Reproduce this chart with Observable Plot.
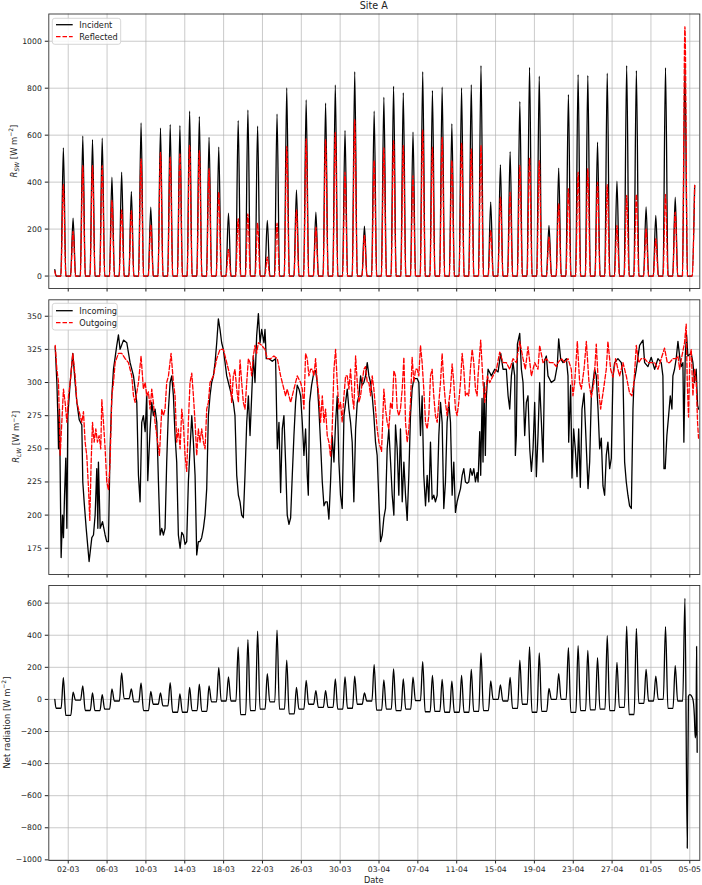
<!DOCTYPE html>
<html><head><meta charset="utf-8">
<script src="https://cdn.jsdelivr.net/npm/d3@7"></script>
<script src="https://cdn.jsdelivr.net/npm/@observablehq/plot@0.6"></script>
<style>
body{margin:0;background:#fff;}
#chart{position:relative;width:702px;height:885px;font-family:"DejaVu Sans",sans-serif;background:#fff;overflow:hidden;color:#222}
.panel{position:absolute;left:0}
#title{position:absolute;top:0;left:373.8px;transform:translateX(-50%);font-size:9.6px;line-height:12px;white-space:nowrap}
#xlabel{position:absolute;top:874px;left:373.8px;transform:translateX(-50%);font-size:8.2px;line-height:12px;white-space:nowrap}
</style></head>
<body>
<div id="chart">
  <div id="title">Site A</div>
  <div id="p1" class="panel" style="top:0px"></div>
  <div id="p2" class="panel" style="top:292px"></div>
  <div id="p3" class="panel" style="top:578px"></div>
  <div id="xlabel">Date</div>
</div>
<script>
// ---------- data (time = days since 29-02 00:00) ----------
const xTickLabels = ["02-03","06-03","10-03","14-03","18-03","22-03","26-03","30-03","03-04","07-04","11-04","15-04","19-04","23-04","27-04","01-05","05-05"];
const swTicks = [0, 200, 400, 600, 800, 1000];
const lwTicks = [175, 200, 225, 250, 275, 300, 325, 350];
const netTicks = [-1000, -800, -600, -400, -200, 0, 200, 400, 600];

// daily peak shortwave (index = day since 29-02)
const swIncident = [27,546,247,596,581,587,421,442,360,652,293,630,645,641,702,679,591,549,268,662,707,638,237,690,801,367,750,272,736,814,620,870,213,702,761,808,780,613,870,790,804,648,801,815,896,315,474,530,743,889,851,216,460,773,858,854,570,864,404,896,875,294,258,887,336,889,386];
const swReflected = [22,390,191,470,470,470,322,282,279,499,220,527,506,520,556,534,457,357,113,244,265,225,81,225,552,282,584,208,581,612,442,666,173,492,546,577,556,428,622,549,591,492,566,542,556,194,336,357,471,502,492,166,308,372,443,457,400,389,216,343,348,201,159,348,272,1062,386];

// longwave [day, W m-2]
const lwIncoming = [[0.66,327],[0.83,300],[0.93,275],[1.0,250],[1.1,280],[1.27,168],[1.41,200],[1.51,183],[1.62,215],[1.75,243],[1.86,190],[1.96,275],[2.2,300],[2.47,322],[2.71,300],[2.89,285],[3.13,272],[3.4,268],[3.5,225],[3.64,210],[3.85,190],[4.15,165],[4.43,183],[4.6,185],[4.77,200],[4.94,235],[5.05,190],[5.11,240],[5.29,190],[5.53,195],[5.8,185],[5.97,180],[6.14,180],[6.31,250],[6.49,290],[6.66,310],[7.0,328],[7.17,336],[7.34,325],[7.69,332],[8.03,330],[8.37,315],[8.72,305],[9.06,285],[9.23,230],[9.4,210],[9.57,270],[9.74,275],[9.92,263],[10.09,290],[10.19,226],[10.43,265],[10.6,285],[10.77,275],[10.94,280],[11.12,270],[11.29,225],[11.46,185],[11.63,190],[11.8,185],[11.97,190],[12.14,240],[12.32,280],[12.49,300],[12.66,305],[12.83,290],[13.0,260],[13.17,240],[13.34,185],[13.52,175],[13.69,187],[13.86,185],[14.03,178],[14.2,180],[14.37,225],[14.54,250],[14.72,275],[14.89,255],[15.06,230],[15.23,170],[15.4,180],[15.57,180],[15.74,183],[15.92,190],[16.09,200],[16.26,220],[16.43,275],[16.6,290],[16.77,300],[16.95,305],[17.12,315],[17.29,330],[17.46,348],[17.63,340],[17.8,330],[17.97,325],[18.15,315],[18.32,305],[18.49,300],[18.66,295],[18.83,290],[19.0,285],[19.17,275],[19.35,230],[19.52,215],[19.69,210],[19.86,200],[20.03,198],[20.2,230],[20.38,270],[20.55,290],[20.72,260],[20.89,290],[21.06,320],[21.23,300],[21.4,335],[21.58,352],[21.75,330],[21.92,340],
[22.15,330],[22.26,340],[22.39,318],[22.67,318],[23.01,316],[23.35,318],[23.53,250],[23.7,270],[23.87,217],[24.04,265],[24.21,275],[24.38,240],[24.55,200],[24.73,193],[24.9,198],[25.07,230],[25.24,260],[25.41,285],[25.58,298],[25.76,295],[25.93,290],[26.1,270],[26.27,245],[26.44,265],[26.61,230],[26.72,215],[26.85,285],[27.06,298],[27.3,308],[27.47,309],[27.64,300],[27.81,280],[27.98,255],[28.16,225],[28.33,207],[28.5,210],[28.67,210],[28.84,197],[29.01,225],[29.18,260],[29.36,240],[29.53,270],[29.7,290],[29.87,240],[30.04,215],[30.21,205],[30.39,275],[30.56,285],[30.73,295],[30.9,280],[31.07,270],[31.24,255],[31.41,210],[31.59,265],[31.76,285],[31.93,290],[32.1,305],[32.27,298],[32.44,300],[32.61,305],[32.79,315],[32.96,305],[33.13,300],[33.3,290],[33.47,275],[33.64,255],[33.81,245],[33.99,210],[34.16,180],[34.33,185],[34.5,198],[34.67,205],[34.84,250],[35.01,265],[35.19,240],[35.36,215],[35.53,200],[35.7,268],[35.87,250],[36.04,215],[36.21,265],[36.39,210],[36.56,240],[36.73,215],[36.9,196],[37.07,230],[37.24,275],[37.41,295],[37.59,303],[37.76,303],[37.93,303],[38.1,300],[38.27,260],[38.44,290],[38.61,230],[38.79,207],[38.96,230],[39.13,210],[39.3,255],[39.47,212],[39.64,215],[39.81,210],[39.99,215],[40.16,260],[40.33,285],[40.5,270],[40.67,205],[40.84,225],[41.01,270],[41.19,285],[41.36,270],[41.53,215],[41.7,240],[41.87,202],[42.04,210],[42.21,215],[42.39,220],[42.56,230],[42.73,235],[42.9,225],[43.07,224],[43.24,225],[43.41,235],[43.59,230],[43.76,235],[43.93,225],[44.1,232],
[44.2,225],[44.37,263],[44.47,230],[44.61,288],[44.71,240],[44.82,300],[44.95,245],[45.06,290],[45.23,310],[45.57,305],[45.91,310],[46.26,308],[46.53,322],[46.77,310],[47.11,310],[47.29,290],[47.46,280],[47.63,305],[47.8,315],[47.97,305],[48.04,245],[48.14,260],[48.25,329],[48.49,337],[48.66,310],[48.83,300],[49.0,260],[49.17,285],[49.34,290],[49.52,250],[49.69,233],[49.86,250],[50.03,285],[50.2,229],[50.37,260],[50.54,300],[50.72,270],[50.89,240],[51.06,317],[51.23,320],[51.4,305],[51.74,300],[52.09,302],[52.36,313],[52.5,333],[52.7,318],[52.94,315],[53.29,318],[53.46,305],[53.53,255],[53.73,298],[53.87,228],[54.04,265],[54.21,250],[54.39,229],[54.56,265],[54.73,221],[54.9,280],[55.11,292],[55.24,270],[55.52,220],[55.69,240],[55.86,290],[56.03,300],[56.2,310],[56.37,305],[56.55,280],[56.72,250],[56.89,258],[57.06,222],[57.23,215],[57.4,245],[57.57,255],[57.75,235],[57.92,243],[58.09,305],[58.26,315],[58.6,318],[58.95,315],[59.12,305],[59.29,240],[59.46,225],[59.63,215],[59.8,207],[59.98,205],[60.15,280],[60.25,300],[60.49,310],[60.83,328],[61.18,332],[61.35,315],[61.69,312],[62.03,319],[62.38,310],[62.72,318],[63.06,315],[63.23,305],[63.34,235],[63.47,235],[63.64,260],[63.82,275],[63.99,290],[64.16,280],[64.26,305],[64.43,310],[64.6,318],[64.78,331],[64.95,320],[65.12,312],[65.29,315],[65.39,255],[65.53,320],[65.67,336],[65.8,320],[66.15,322],[66.32,315],[66.49,300],[66.66,310],[66.8,283],[66.9,280]];

const lwOutgoing = [[0.66,328],[0.83,310],[1.0,300],[1.17,245],[1.34,270],[1.51,295],[1.68,285],[1.86,270],[2.03,290],[2.2,300],[2.47,322],[2.71,305],[2.89,285],[3.06,280],[3.23,275],[3.4,270],[3.57,278],[3.74,255],[3.91,245],[4.09,220],[4.22,196],[4.36,240],[4.5,270],[4.67,255],[4.84,265],[5.01,255],[5.18,260],[5.35,250],[5.46,287],[5.63,270],[5.8,250],[5.97,225],[6.14,219],[6.31,240],[6.49,290],[6.66,300],[6.83,315],[7.17,322],[7.51,322],[7.86,318],[8.2,315],[8.37,310],[8.54,305],[8.72,290],[8.89,285],[9.23,300],[9.5,320],[9.74,295],[9.92,300],[10.09,290],[10.26,293],[10.43,280],[10.6,295],[10.77,285],[10.94,270],[11.12,260],[11.39,245],[11.63,280],[11.8,275],[11.97,280],[12.14,300],[12.32,305],[12.59,322],[12.83,300],[13.0,290],[13.17,255],[13.34,265],[13.52,250],[13.69,280],[13.86,268],[14.03,245],[14.2,233],[14.37,270],[14.54,300],[14.72,307],[14.89,290],[15.06,270],[15.23,245],[15.4,265],[15.57,255],[15.74,265],[15.92,255],[16.09,250],[16.26,280],[16.43,285],[16.6,300],[16.95,305],[17.29,318],[17.63,325],[17.97,325],[18.32,315],[18.49,310],[18.66,305],[18.83,285],[19.0,305],[19.17,310],[19.35,295],[19.52,285],[19.69,317],[19.86,300],[20.03,285],[20.2,280],[20.38,300],[20.55,318],[20.72,315],[20.89,305],[21.06,320],[21.23,328],[21.4,322],[21.58,330],[21.92,328],[22.26,325],
[22.5,318],[22.84,318],[23.18,320],[23.53,318],[23.87,305],[24.04,300],[24.38,290],[24.55,295],[24.9,285],[25.24,295],[25.58,305],[25.93,300],[26.1,295],[26.27,280],[26.44,322],[26.61,318],[26.78,305],[26.96,310],[27.13,310],[27.3,305],[27.47,318],[27.64,300],[27.81,290],[27.98,270],[28.16,290],[28.33,270],[28.5,280],[28.67,260],[28.84,255],[29.01,244],[29.18,265],[29.36,310],[29.53,325],[29.7,300],[29.87,280],[30.04,285],[30.21,270],[30.39,290],[30.56,305],[30.73,305],[30.9,295],[31.07,310],[31.24,290],[31.41,280],[31.59,320],[31.76,300],[31.93,285],[32.1,290],[32.27,300],[32.44,310],[32.61,312],[32.79,300],[32.96,300],[33.13,290],[33.3,305],[33.47,295],[33.64,280],[33.81,265],[33.99,255],[34.26,248],[34.5,295],[34.67,280],[34.84,270],[35.01,265],[35.19,285],[35.36,280],[35.53,309],[35.7,305],[35.87,280],[36.04,275],[36.21,280],[36.39,295],[36.56,319],[36.73,270],[36.9,255],[37.07,265],[37.24,285],[37.41,319],[37.59,300],[37.76,310],[37.93,310],[38.1,305],[38.27,328],[38.44,315],[38.61,295],[38.79,270],[38.96,265],[39.13,275],[39.3,305],[39.47,310],[39.64,290],[39.81,275],[39.99,270],[40.16,285],[40.33,300],[40.5,322],[40.67,300],[40.84,285],[41.01,275],[41.19,285],[41.36,295],[41.53,314],[41.7,300],[41.87,280],[42.04,275],[42.21,285],[42.39,300],[42.56,322],[42.73,310],[42.9,290],[43.07,292],[43.24,290],[43.41,310],[43.59,325],[43.76,315],[43.93,295],[44.1,290],
[44.2,305],[44.47,332],[44.71,300],[44.89,285],[45.16,305],[45.4,300],[45.74,305],[46.09,310],[46.43,323],[46.77,315],[47.11,315],[47.46,310],[47.8,318],[48.14,315],[48.49,331],[48.83,318],[49.07,310],[49.34,327],[49.69,305],[50.03,315],[50.37,310],[50.54,328],[50.89,315],[51.23,318],[51.57,315],[51.92,315],[52.26,312],[52.43,315],[52.77,318],[53.12,315],[53.46,318],[53.8,310],[53.97,290],[54.15,300],[54.42,331],[54.66,300],[54.83,295],[55.11,310],[55.35,331],[55.62,300],[55.86,289],[56.13,300],[56.37,329],[56.61,295],[56.82,280],[57.16,297],[57.4,310],[57.57,331],[57.85,310],[58.09,304],[58.36,318],[58.6,310],[58.77,305],[59.12,315],[59.46,305],[59.8,292],[60.04,290],[60.25,300],[60.49,328],[60.73,315],[61.0,318],[61.35,318],[61.69,315],[62.03,315],[62.38,315],[62.72,310],[63.06,318],[63.4,326],[63.68,315],[63.92,315],[64.26,318],[64.6,318],[64.78,320],[64.95,310],[65.19,320],[65.46,330],[65.63,344],[65.74,300],[65.87,274],[66.01,320],[66.15,325],[66.32,290],[66.49,310],[66.66,300],[66.8,270],[66.9,258]];

// net radiation: daily midday peak (index = day) and following-night level
const netPeaks = [0,135,45,85,40,30,66,166,65,103,50,40,105,35,75,95,85,198,140,326,372,425,160,431,245,75,118,55,55,128,141,145,40,216,122,190,128,139,235,150,125,114,150,187,290,115,90,137,245,328,290,68,160,322,335,305,261,397,230,456,442,187,145,453,210,630];
const netNights = [-55,-100,-5,-69,-70,-60,-10,5,-15,-70,-30,-40,-80,-80,-70,-75,-15,-10,-10,-95,-70,-60,-15,-60,-90,-60,-30,-50,-50,-60,-55,-30,-10,-67,-60,-70,-60,-8,-77,-75,-80,-80,-80,-75,-70,0,-10,-56,-30,-80,-75,0,0,-81,-70,-65,-60,-70,-50,-94,-25,-10,0,-56,-10];
const netFinal = [[65.74,-927],[65.86,20],[66.0,30],[66.3,5],[66.47,-100],[66.56,-240],[66.64,-200],[66.7,330],[66.76,-330]];

// ---------- build ----------
const START = Date.UTC(2024, 1, 29);
const DAY = 86400000;
const at = d => new Date(START + d * DAY);
const xTickDates = xTickLabels.map(s => { const [dd, mm] = s.split("-").map(Number); return new Date(Date.UTC(2024, mm - 1, dd)); });
const xDomain = [at(0), at(67.03)];
const fmt = d3.utcFormat("%d-%m");
const yFmt = d3.format("d");

const swRows = [];
swIncident.forEach((p, i) => {
  if (i === 0) {
    swRows.push({t: at(0.62), inc: p, ref: swReflected[0]});
    swRows.push({t: at(0.76), inc: 0, ref: 0});
    return;
  }
  swRows.push({t: at(i + 0.24), inc: 0, ref: 0});
  swRows.push({t: at(i + 0.5), inc: p, ref: swReflected[i]});
  if (i < swIncident.length - 1) swRows.push({t: at(i + 0.76), inc: 0, ref: 0});
});

const lwIn = lwIncoming.map(([d, v]) => ({t: at(d), v}));
const lwOut = lwOutgoing.map(([d, v]) => ({t: at(d), v}));

const netRows = [{t: at(0.62), v: netPeaks[0]}];
netPeaks.forEach((p, i) => {
  if (i > 0) {
    netRows.push({t: at(i + 0.27), v: netNights[i - 1]});
    netRows.push({t: at(i + 0.5), v: p});
  }
  if (i < netNights.length) netRows.push({t: at(i + 0.75), v: netNights[i]});
});
netFinal.forEach(([d, v]) => netRows.push({t: at(d), v}));

const gridStyle = {stroke: "#b0b0b0", strokeWidth: 0.8, strokeOpacity: 0.85};

function panel({height, marginTop, marginBottom, yDomain, yTicks, marks, labels}) {
  return Plot.plot({
    width: 702, height, marginLeft: 48.3, marginRight: 2.7, marginTop, marginBottom,
    style: {fontFamily: "DejaVu Sans, sans-serif", fontSize: "7.7px", color: "#222", background: "transparent", overflow: "visible"},
    x: {type: "utc", domain: xDomain, ticks: xTickDates, tickFormat: labels ? fmt : () => "", tickSize: 3.5, tickPadding: 2.5, label: null},
    y: {domain: yDomain, ticks: yTicks, tickFormat: yFmt, tickSize: 3.5, tickPadding: 3.5, label: null},
    marks: [
      Plot.ruleX(xTickDates, gridStyle),
      Plot.ruleY(yTicks, gridStyle),
      ...marks,
      Plot.frame({stroke: "#333", strokeWidth: 0.9})
    ]
  });
}

function addYLabel(svg, bx, cy, parts) {
  const t = d3.select(svg).append("text")
    .attr("transform", `translate(${bx},${cy}) rotate(-90)`)
    .attr("text-anchor", "middle").attr("font-size", 8.4).attr("fill", "#222")
    .attr("font-family", "DejaVu Sans, sans-serif");
  parts.forEach(p => {
    const s = t.append("tspan").text(p.text);
    if (p.italic) s.attr("font-style", "italic");
    if (p.size) s.attr("font-size", p.size);
    if (p.dy) s.attr("dy", p.dy);
  });
}

function addLegend(svg, box, rows, items) {
  const g = d3.select(svg).append("g").attr("font-family", "DejaVu Sans, sans-serif").attr("font-size", 8.2).attr("text-anchor", "start");
  g.append("rect").attr("x", box[0]).attr("y", box[1]).attr("width", box[2]).attr("height", box[3])
    .attr("rx", 2.5).attr("fill", "white").attr("fill-opacity", 0.85).attr("stroke", "#cccccc").attr("stroke-width", 0.8);
  items.forEach((it, k) => {
    g.append("line").attr("x1", 56).attr("x2", 72.7).attr("y1", rows[k]).attr("y2", rows[k])
      .attr("stroke", it.color).attr("stroke-width", 1.3).attr("stroke-dasharray", it.dash || null);
    g.append("text").attr("x", 79.3).attr("y", rows[k]).attr("dy", "0.35em").attr("text-anchor", "start").attr("fill", "#222").text(it.label);
  });
}

// panel 1: shortwave
const p1 = panel({
  height: 292, marginTop: 13.5, marginBottom: 4, yDomain: [-53, 1116], yTicks: swTicks, labels: false,
  marks: [
    Plot.line(swRows, {x: "t", y: "inc", stroke: "black", strokeWidth: 1.3, curve: "monotone-x"}),
    Plot.line(swRows, {x: "t", y: "ref", stroke: "red", strokeWidth: 1.3, strokeDasharray: "4.5,2", curve: "monotone-x"})
  ]
});
addYLabel(p1, 16.5, 151, [
  {text: "R", italic: true}, {text: "SW", italic: true, size: 6, dy: 2}, {text: " [W m", dy: -2},
  {text: "−2", size: 6, dy: -3.5}, {text: "]", dy: 3.5}
]);
addLegend(p1, [52.3, 18.3, 68.4, 26], [24.7, 36.7], [
  {label: "Incident", color: "black"}, {label: "Reflected", color: "red", dash: "4.5,2"}
]);
document.getElementById("p1").append(p1);

// panel 2: longwave
const p2 = panel({
  height: 286, marginTop: 7.3, marginBottom: 4, yDomain: [155.2, 362.4], yTicks: lwTicks, labels: false,
  marks: [
    Plot.line(lwIn, {x: "t", y: "v", stroke: "black", strokeWidth: 1.3}),
    Plot.line(lwOut, {x: "t", y: "v", stroke: "red", strokeWidth: 1.3, strokeDasharray: "4.5,2"})
  ]
});
addYLabel(p2, 19, 144.7, [
  {text: "R", italic: true}, {text: "LW", italic: true, size: 6, dy: 2}, {text: " [W m", dy: -2},
  {text: "−2", size: 6, dy: -3.5}, {text: "]", dy: 3.5}
]);
addLegend(p2, [52.3, 11.3, 65, 26.7], [18.7, 30.7], [
  {label: "Incoming", color: "black"}, {label: "Outgoing", color: "red", dash: "4.5,2"}
]);
document.getElementById("p2").append(p2);

// panel 3: net radiation
const p3 = panel({
  height: 307, marginTop: 7, marginBottom: 25, yDomain: [-1004, 710], yTicks: netTicks, labels: true,
  marks: [
    Plot.line(netRows, {x: "t", y: "v", stroke: "black", strokeWidth: 1.3, curve: "monotone-x"})
  ]
});
addYLabel(p3, 9.5, 144.5, [
  {text: "Net radiation [W m"}, {text: "−2", size: 6, dy: -3.5}, {text: "]", dy: 3.5}
]);
document.getElementById("p3").append(p3);
</script>
</body></html>
